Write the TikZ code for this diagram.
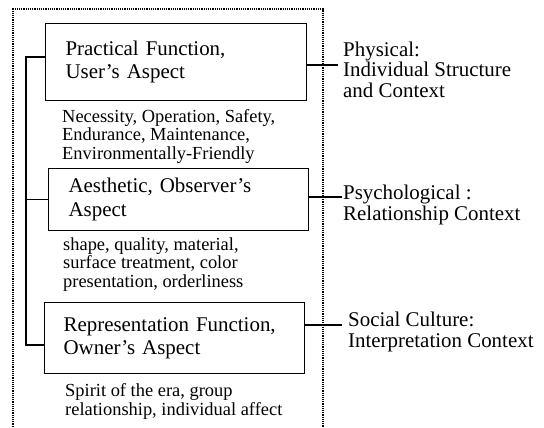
\documentclass[tikz,border=0pt]{standalone}
\usepackage{fontspec}
\setmainfont{Liberation Serif}
\usetikzlibrary{positioning}
\newcommand{\aspectfont}{\fontsize{21}{23.5}\selectfont}
\newcommand{\itemfont}{\fontsize{18.5}{18.5}\selectfont}
\newcommand{\contextfont}{\fontsize{21}{20.5}\selectfont}
\tikzset{aspect/.style = {draw, line width = 1.2bp, anchor = north west,
                          align = left, inner xsep = 20bp, font = \aspectfont},
         items/.style = {anchor = base west, align = left, inner sep = 0pt,
                         font = \itemfont},
         context/.style = {anchor = base west, align = left, inner sep = 0pt,
                           font = \contextfont},
         link/.style = {line width = 1.2bp}}

\begin{document}
\begin{tikzpicture}[x = 1bp, y = -1bp]
      \useasboundingbox (0, 0) rectangle (544, 427);
      \draw [densely dotted, line width = 1.2bp] (13, 440) -- (13, 9) -- (323, 9) -- (323, 440);
      \node [aspect, minimum width = 261bp, minimum height = 77bp, text width = 221bp]
            (practical) at (45, 23) {Practical Function,\\User’s Aspect};
      \node [aspect, minimum width = 260bp, minimum height = 62bp, text width = 220bp]
            (aesthetic) at (48, 168) {Aesthetic, Observer’s\\Aspect};
      \node [aspect, minimum width = 260bp, minimum height = 71bp, text width = 222bp, inner xsep = 19bp]
            (representation) at (44, 302) {Representation Function,\\Owner’s Aspect};
      \node [items] (practicalitems) at (62, 159)
            {Necessity, Operation, Safety,\\Endurance, Maintenance,\\Environmentally-Friendly};
      \node [items] (aestheticitems) at (63, 287)
            {shape, quality, material,\\surface treatment, color\\presentation, orderliness};
      \node [items] (representationitems) at (65, 415)
            {Spirit of the era, group\\relationship, individual affect};
      \node [context] (physical) at (343, 97) {Physical:\\Individual Structure\\and Context};
      \node [context] (psychological) at (343, 220) {Psychological :\\Relationship Context};
      \node [context] (social) at (348, 347) {Social Culture:\\Interpretation Context};
      \coordinate (spinetop) at (26, 57);
      \coordinate (spinebottom) at (26, 345);
      \coordinate (physicalin) at (338, 65);
      \coordinate (psychologicalin) at (342, 197);
      \coordinate (socialin) at (342, 325);
      \draw [link] (practical.west |- spinetop) -- (spinetop) -- (spinebottom)
                   -- (representation.west |- spinebottom);
      \draw [link] (aesthetic.west) -- (aesthetic.west -| spinetop);
      \draw [link] (practical.east |- physicalin) -- (physicalin);
      \draw [link] (aesthetic.east |- psychologicalin) -- (psychologicalin);
      \draw [link] (representation.east |- socialin) -- (socialin);
    \end{tikzpicture}
\end{document}
